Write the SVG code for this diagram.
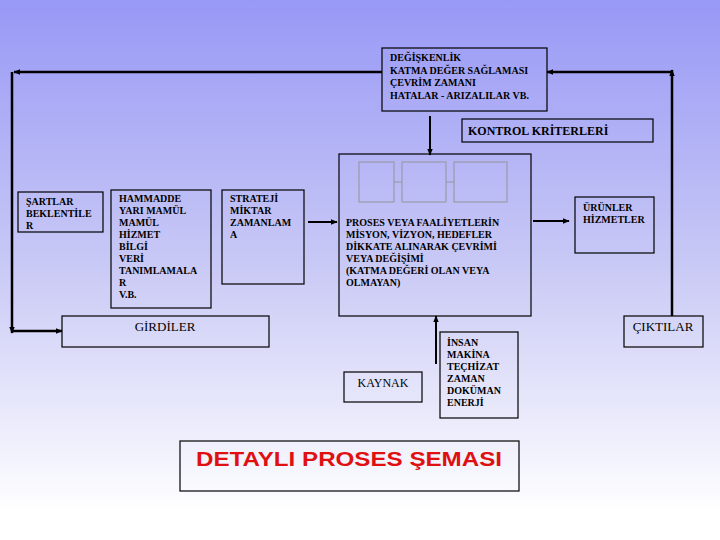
<svg xmlns="http://www.w3.org/2000/svg" width="720" height="540" viewBox="0 0 720 540">
<defs>
<linearGradient id="bg" x1="0" y1="0" x2="0" y2="1">
<stop offset="0" stop-color="#9898f6"/>
<stop offset="0.5" stop-color="#cacaf6"/>
<stop offset="0.95" stop-color="#ffffff"/>
<stop offset="1" stop-color="#ffffff"/>
</linearGradient>
<marker id="ah" viewBox="0 0 10 10" refX="9" refY="5" markerWidth="7" markerHeight="7" orient="auto" markerUnits="userSpaceOnUse">
<path d="M0,1 L10,5 L0,9 z" fill="#000"/>
</marker>
<style>
.box{fill:none;stroke:#000;stroke-width:1.2}
.in{fill:none;stroke:#9a9aa8;stroke-width:1.2}
.sm{font-family:"Liberation Serif","Times New Roman",serif;font-size:10px;font-weight:bold;fill:#000}
.md{font-family:"Liberation Serif","Times New Roman",serif;font-size:13px;fill:#000}
.kb{font-family:"Liberation Serif","Times New Roman",serif;font-size:12px;font-weight:bold;fill:#000}
.ln{fill:none;stroke:#000;stroke-width:2.5}
.lt{fill:none;stroke:#000;stroke-width:2}
</style>
</defs>
<rect x="0" y="0" width="720" height="540" fill="url(#bg)"/>

<g id="connectors">
<line class="ln" x1="382" y1="72" x2="14" y2="72" marker-end="url(#ah)"/>
<line class="ln" x1="12" y1="72" x2="12" y2="333" marker-end="url(#ah)"/>
<line class="ln" x1="12" y1="331" x2="62" y2="331" marker-end="url(#ah)"/>
<line class="ln" x1="672" y1="316" x2="672" y2="70" marker-end="url(#ah)"/>
<line class="ln" x1="672" y1="72" x2="547" y2="72" marker-end="url(#ah)"/>
<line class="lt" x1="430" y1="116" x2="430" y2="155" marker-end="url(#ah)"/>
<line class="lt" x1="308" y1="222" x2="337" y2="222" marker-end="url(#ah)"/>
<line class="lt" x1="533" y1="221" x2="569" y2="221" marker-end="url(#ah)"/>
<line class="lt" x1="436" y1="364" x2="436" y2="316" marker-end="url(#ah)"/>
</g>

<g id="degiskenlik">
<rect class="box" x="382" y="48" width="165" height="63"/>
<text class="sm"><tspan x="390" y="61">DEĞİŞKENLİK</tspan><tspan x="390" y="74">KATMA DEĞER SAĞLAMASI</tspan><tspan x="390" y="86">ÇEVRİM ZAMANI</tspan><tspan x="390" y="99">HATALAR - ARIZALILAR VB.</tspan></text>
</g>

<g id="kontrol">
<rect class="box" x="462" y="119" width="191" height="23"/>
<text class="kb" x="468" y="135">KONTROL KRİTERLERİ</text>
</g>

<g id="sartlar">
<rect class="box" x="18" y="192" width="85" height="40"/>
<text class="sm"><tspan x="26" y="205">ŞARTLAR</tspan><tspan x="26" y="217">BEKLENTİLE</tspan><tspan x="26" y="229">R</tspan></text>
</g>

<g id="hammadde">
<rect class="box" x="111" y="190" width="100" height="118"/>
<text class="sm"><tspan x="119" y="202">HAMMADDE</tspan><tspan x="119" y="214">YARI MAMÜL</tspan><tspan x="119" y="226">MAMÜL</tspan><tspan x="119" y="238">HİZMET</tspan><tspan x="119" y="250">BİLGİ</tspan><tspan x="119" y="262">VERİ</tspan><tspan x="119" y="274">TANIMLAMALA</tspan><tspan x="119" y="286">R</tspan><tspan x="119" y="298">V.B.</tspan></text>
</g>

<g id="strateji">
<rect class="box" x="222" y="190" width="82" height="94"/>
<text class="sm"><tspan x="230" y="202">STRATEJİ</tspan><tspan x="230" y="214">MİKTAR</tspan><tspan x="230" y="226">ZAMANLAM</tspan><tspan x="230" y="238">A</tspan></text>
</g>

<g id="proses">
<rect class="box" x="339" y="154" width="192" height="162"/>
<rect class="in" x="359" y="162" width="35" height="40"/>
<rect class="in" x="402" y="162" width="44" height="40"/>
<rect class="in" x="454" y="162" width="53" height="40"/>
<line class="in" x1="394" y1="182" x2="402" y2="182"/>
<line class="in" x1="446" y1="182" x2="454" y2="182"/>
<text class="sm"><tspan x="346" y="226">PROSES VEYA FAALİYETLERİN</tspan><tspan x="346" y="238">MİSYON, VİZYON, HEDEFLER</tspan><tspan x="346" y="250">DİKKATE ALINARAK ÇEVRİMİ</tspan><tspan x="346" y="262">VEYA DEĞİŞİMİ</tspan><tspan x="346" y="274">(KATMA DEĞERİ OLAN VEYA</tspan><tspan x="346" y="286">OLMAYAN)</tspan></text>
</g>

<g id="urunler">
<rect class="box" x="575" y="197" width="79" height="56"/>
<text class="sm"><tspan x="583" y="211">ÜRÜNLER</tspan><tspan x="583" y="223">HİZMETLER</tspan></text>
</g>

<g id="girdiler">
<rect class="box" x="62" y="316" width="207" height="31"/>
<text class="md" x="165" y="331" text-anchor="middle">GİRDİLER</text>
</g>

<g id="ciktilar">
<rect class="box" x="624" y="316" width="79" height="31"/>
<text class="md" x="663" y="331" text-anchor="middle">ÇIKTILAR</text>
</g>

<g id="kaynak">
<rect class="box" x="344" y="372" width="78" height="30"/>
<text class="md" x="383" y="387" text-anchor="middle" style="font-size:12px">KAYNAK</text>
</g>

<g id="insan">
<rect class="box" x="440" y="332" width="78" height="86"/>
<text class="sm"><tspan x="447" y="346">İNSAN</tspan><tspan x="447" y="358">MAKİNA</tspan><tspan x="447" y="370">TEÇHİZAT</tspan><tspan x="447" y="382">ZAMAN</tspan><tspan x="447" y="394">DOKÜMAN</tspan><tspan x="447" y="406">ENERJİ</tspan></text>
</g>

<g id="baslik">
<rect class="box" x="180" y="441" width="339" height="50"/>
<text x="196" y="466" textLength="306" lengthAdjust="spacingAndGlyphs" style="font-family:'Liberation Sans',Arial,sans-serif;font-size:20px;font-weight:bold;fill:#e01010">DETAYLI PROSES ŞEMASI</text>
</g>
</svg>
